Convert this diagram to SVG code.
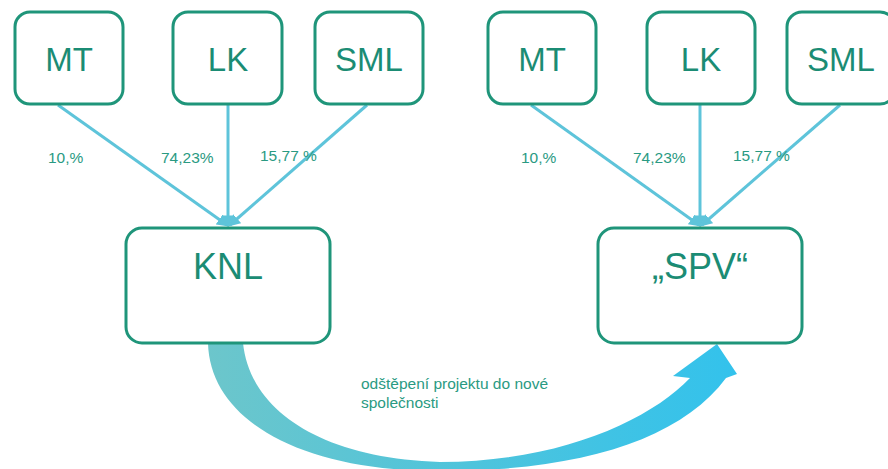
<svg xmlns="http://www.w3.org/2000/svg" width="888" height="469" viewBox="0 0 888 469">
<defs>
<style>
.box{fill:#fff;stroke:#1f957a;stroke-width:3}
.lbl{font-family:"Liberation Sans",Arial,sans-serif;fill:#1b8c74;text-anchor:middle}
.nt{font-size:33px}
.bt{font-size:36px}
.pct{font-family:"Liberation Sans",Arial,sans-serif;fill:#2a9a82;font-size:15.5px}
.ln{stroke:#5ec4da;stroke-width:3;fill:none}
.note{font-family:"Liberation Sans",Arial,sans-serif;fill:#2a9a82;font-size:15.5px}
</style>
<linearGradient id="g" x1="0" y1="0" x2="1" y2="0">
<stop offset="0" stop-color="#6cc6cb"/>
<stop offset="0.5" stop-color="#4ec4dc"/>
<stop offset="1" stop-color="#33c2ec"/>
</linearGradient>
<marker id="ah" viewBox="0 0 10 10" refX="8" refY="5" markerWidth="4" markerHeight="4" orient="auto">
<path d="M0,0 L10,5 L0,10 z" fill="#5ec4da"/>
</marker>
</defs>
<rect width="888" height="469" fill="#fff"/>

<g id="connectors">
<line class="ln" x1="58" y1="105" x2="227" y2="225" marker-end="url(#ah)"/>
<line class="ln" x1="228" y1="105" x2="228" y2="225" marker-end="url(#ah)"/>
<line class="ln" x1="367" y1="105" x2="230" y2="225" marker-end="url(#ah)"/>
<line class="ln" x1="531" y1="105" x2="699" y2="225" marker-end="url(#ah)"/>
<line class="ln" x1="700" y1="105" x2="700" y2="225" marker-end="url(#ah)"/>
<line class="ln" x1="840" y1="105" x2="702" y2="225" marker-end="url(#ah)"/>
<path d="M208,343 L243,343 C250,410 320,458 440,462 C560,462 650,420 690,378 L673,376 L717,344 L737,374 L726,378 C680,440 580,471 440,471 C300,471 210,420 208,343 Z" fill="url(#g)"/>
</g>

<g id="labels">
<text class="pct" x="48" y="163">10,%</text>
<text class="pct" x="161" y="163">74,23%</text>
<text class="pct" x="260" y="161">15,77 %</text>
<text class="pct" x="521" y="163">10,%</text>
<text class="pct" x="633" y="163">74,23%</text>
<text class="pct" x="733" y="161">15,77 %</text>
<text class="note" x="361" y="389">odštěpení projektu do nové</text>
<text class="note" x="361" y="408">společnosti</text>
</g>

<g id="mt1"><rect class="box" x="15" y="12" width="108" height="92" rx="15"/><text class="lbl nt" x="69" y="71">MT</text></g>
<g id="lk1"><rect class="box" x="173" y="12" width="109" height="92" rx="15"/><text class="lbl nt" x="228" y="71">LK</text></g>
<g id="sml1"><rect class="box" x="315" y="12" width="108" height="92" rx="15"/><text class="lbl nt" x="369" y="71">SML</text></g>
<g id="knl"><rect class="box" x="126" y="228" width="204" height="115" rx="16"/><text class="lbl bt" x="228" y="279">KNL</text></g>

<g id="mt2"><rect class="box" x="488" y="12" width="108" height="92" rx="15"/><text class="lbl nt" x="542" y="71">MT</text></g>
<g id="lk2"><rect class="box" x="647" y="12" width="108" height="92" rx="15"/><text class="lbl nt" x="701" y="71">LK</text></g>
<g id="sml2"><rect class="box" x="787" y="12" width="108" height="92" rx="15"/><text class="lbl nt" x="841" y="71">SML</text></g>
<g id="spv"><rect class="box" x="598" y="228" width="204" height="115" rx="16"/><text class="lbl bt" x="700" y="279">„SPV“</text></g>
</svg>
